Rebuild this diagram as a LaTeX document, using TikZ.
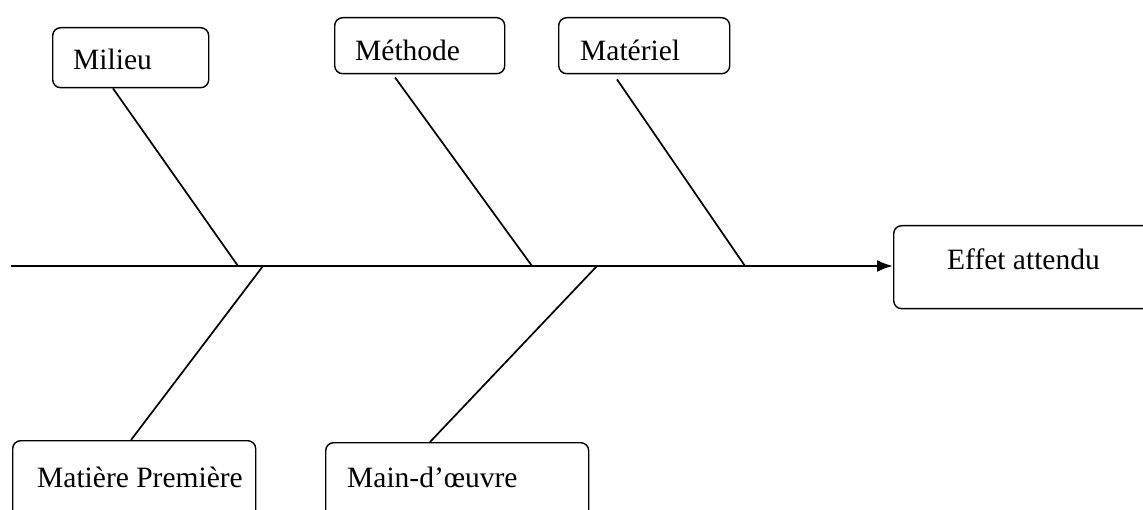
\documentclass[tikz,border=0pt]{standalone}
\usepackage{fontspec}
\setmainfont{Liberation Serif}
\usetikzlibrary{arrows.meta,calc}
\tikzset{
  causebox/.style={draw, line width=1.4pt, rounded corners=8pt, inner sep=0pt, anchor=north west},
  lbl/.style={inner sep=0pt, anchor=base west, font=\fontsize{29.5}{34}\selectfont},
  bone/.style={line width=1.7pt},
  spine/.style={line width=2.2pt, -{Latex[length=16pt,width=12pt]}}
}
\begin{document}
\begin{tikzpicture}[x=1pt,y=-1pt]
\useasboundingbox (0,0) rectangle (1143,510);
\clip (0,0) rectangle (1143,510);
% boxes
\node[causebox, minimum width=156pt, minimum height=60pt] (milieu) at (52,27) {};
\node[causebox, minimum width=170pt, minimum height=56pt] (methode) at (334,17) {};
\node[causebox, minimum width=171pt, minimum height=56pt] (materiel) at (558,17) {};
\node[causebox, minimum width=270pt, minimum height=83pt] (effet) at (893,225) {};
\node[causebox, minimum width=243pt, minimum height=90pt] (matiere) at (12,440) {};
\node[causebox, minimum width=263pt, minimum height=90pt] (main) at (325,442) {};
% labels
\node[lbl] (tmilieu) at (73,70) {Milieu};
\node[lbl] (tmethode) at (355,61) {Méthode};
\node[lbl] (tmateriel) at (580,61) {Matériel};
\node[lbl] (teffet) at (947,270) {Effet attendu};
\node[lbl] (tmatiere) at (37,487) {Matière Première};
\node[lbl] (tmain) at (347,487) {Main-d’œuvre};
% spine
\coordinate (start) at (11,266);
\coordinate (j1) at (238,266);
\coordinate (j2) at (263,266);
\coordinate (j3) at (532,266);
\coordinate (j4) at (597,266);
\coordinate (j5) at (745,266);
\draw[spine] (start) -- (effet.west |- start);
% bones
\draw[bone] (milieu.south -| 113,0) -- (j1);
\draw[bone] (j2) -- (matiere.north -| 131,0);
\draw[bone] ($(methode.south -| 395,0)+(0,3)$) -- (j3);
\draw[bone] (j4) -- (main.north -| 430,0);
\draw[bone] ($(materiel.south -| 617,0)+(0,5)$) -- (j5);
\end{tikzpicture}
\end{document}
